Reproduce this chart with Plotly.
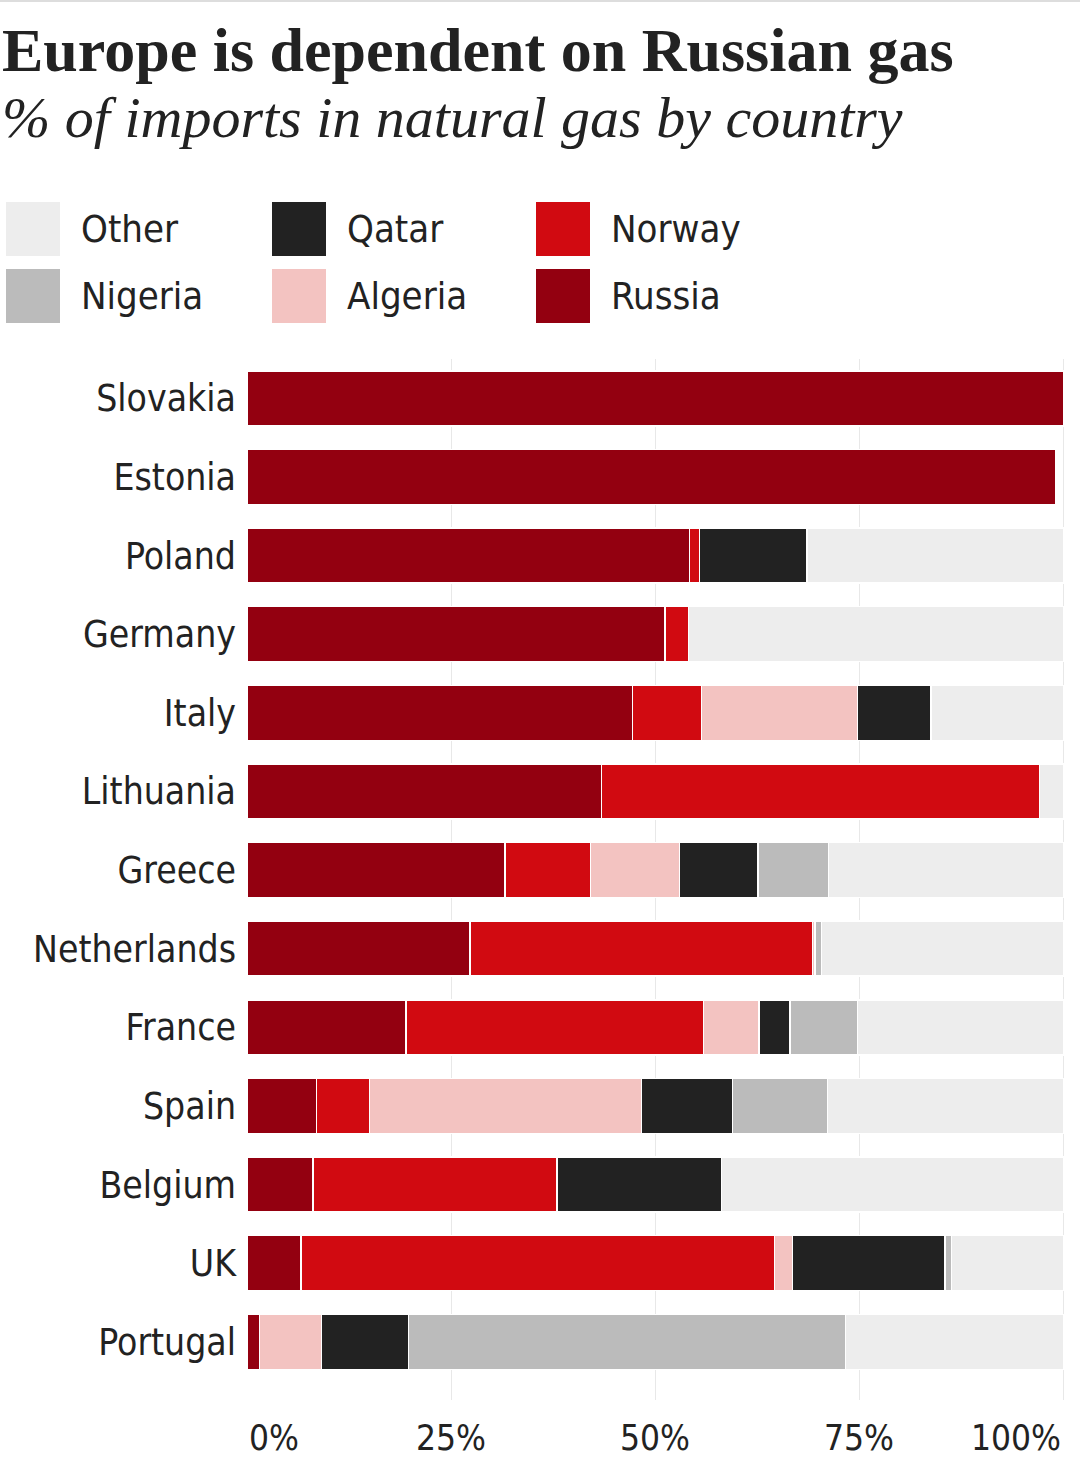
import plotly.graph_objects as go

# data (% of natural gas imports)
countries = ['Slovakia', 'Estonia', 'Poland', 'Germany', 'Italy', 'Lithuania', 'Greece',
             'Netherlands', 'France', 'Spain', 'Belgium', 'UK', 'Portugal']
russia  = [100, 99.1, 54.2, 51.2, 47.2, 43.4, 31.6, 27.3, 19.5, 8.5, 8.1, 6.6, 1.5]
norway  = [0, 0, 1.2, 2.9, 8.5, 53.7, 10.5, 42.0, 36.4, 6.5, 29.9, 58.0, 0]
algeria = [0, 0, 0, 0, 19.1, 0, 10.9, 0.3, 6.8, 33.3, 0, 2.2, 7.6]
qatar   = [0, 0, 13.2, 0, 9.0, 0, 9.6, 0, 3.8, 11.2, 20.1, 18.7, 10.7]
nigeria = [0, 0, 0, 0, 0, 0, 8.6, 0.8, 8.3, 11.6, 0, 0.8, 53.5]
other   = [0, 0, 31.4, 45.9, 16.2, 2.9, 28.8, 29.6, 25.2, 28.9, 41.9, 13.7, 26.7]

series = ['Russia', 'Norway', 'Algeria', 'Qatar', 'Nigeria', 'Other']
values = [russia, norway, algeria, qatar, nigeria, other]
colors = ['#930010', '#d10a11', '#f3c3c1', '#222222', '#bbbbbb', '#ededed']

tick_vals = [0, 25, 50, 75, 100]
tick_text = ['0%', '25%', '50%', '75%', '100%']

legend_rows = [['Other', 'Qatar', 'Norway'], ['Nigeria', 'Algeria', 'Russia']]

W, H = 1080, 1466
L, R, T, B = 247, 15, 359, 66

sans = 'Liberation Sans Narrow, DejaVu Sans Condensed, Roboto, sans-serif'
serif = 'Liberation Serif, DejaVu Serif, serif'


def px(x):
    return (x - L) / (W - L - R)


def py(y):
    return (H - B - y) / (H - T - B)


fig = go.Figure()
for name, vals, col in zip(series, values, colors):
    fig.add_trace(go.Bar(
        y=countries, x=vals, name=name, orientation='h',
        marker=dict(color=col, line=dict(color='white', width=1.5)),
        width=0.7, showlegend=False,
    ))

# hand-made legend (big squares like the original)
col_x = [6, 272, 536]
row_y = [229, 296]
for r, row in enumerate(legend_rows):
    for c, name in enumerate(row):
        col = colors[series.index(name)]
        fig.add_shape(type='rect', xref='paper', yref='paper',
                      x0=px(col_x[c]), x1=px(col_x[c] + 54),
                      y0=py(row_y[r] + 27), y1=py(row_y[r] - 27),
                      fillcolor=col, line=dict(width=0))
        fig.add_annotation(x=px(col_x[c] + 73), y=py(row_y[r]), xref='paper', yref='paper',
                           text=name, showarrow=False, xanchor='left', yanchor='middle',
                           font=dict(family=sans, size=38, color='#222222'))

# thin rule along the top edge
fig.add_shape(type='line', xref='paper', yref='paper', x0=px(0), x1=px(W),
              y0=py(1), y1=py(1), line=dict(color='#dddddd', width=2))

# title + subtitle
fig.add_annotation(x=px(0), y=py(50), xref='paper', yref='paper',
                   text='<b>Europe is dependent on Russian gas</b>', showarrow=False,
                   xanchor='left', yanchor='middle',
                   font=dict(family=serif, size=62, color='#222222'))
fig.add_annotation(x=px(0), y=py(117), xref='paper', yref='paper',
                   text='<i>% of imports in natural gas by country</i>', showarrow=False,
                   xanchor='left', yanchor='middle',
                   font=dict(family=serif, size=58, color='#222222'))

# x tick labels: ends pulled inward like the original
for v, t in zip(tick_vals, tick_text):
    anchor = 'left' if v == 0 else ('right' if v == 100 else 'center')
    fig.add_annotation(x=v, y=0, xref='x', yref='paper', text=t, showarrow=False,
                       xanchor=anchor, yanchor='top', yshift=-16,
                       font=dict(family=sans, size=35, color='#222222'))

fig.update_layout(
    width=W, height=H, barmode='stack', bargap=0.3,
    margin=dict(l=L, r=R, t=T, b=B),
    plot_bgcolor='white', paper_bgcolor='white',
    xaxis=dict(range=[0, 100.2], tickvals=tick_vals, showticklabels=False,
               showgrid=True, gridcolor='#e8e8e8', gridwidth=1,
               zeroline=False, fixedrange=True),
    yaxis=dict(categoryorder='array', categoryarray=countries,
               range=[12.74, -0.5], showgrid=False, ticks='', ticklabelstandoff=10,
               tickfont=dict(family=sans, size=37, color='#222222')),
)

# drop the browser's default body margin so the figure fills the window
fig.write_html('out.html', config={'displayModeBar': False},
               post_script="document.body.style.margin='0';")
